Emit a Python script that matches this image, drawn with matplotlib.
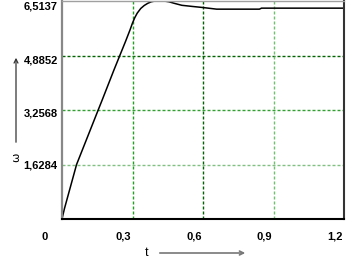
import matplotlib
matplotlib.use("Agg")
import matplotlib.pyplot as plt
import matplotlib.transforms as mtransforms
from matplotlib import font_manager

# Data
t_vals = [0.0, 0.01, 0.062, 0.154, 0.171, 0.221, 0.246, 0.270, 0.290, 0.300, 0.310,
          0.320, 0.335, 0.350, 0.365, 0.380, 0.395, 0.415, 0.435, 0.455, 0.480,
          0.510, 0.556, 0.598, 0.658, 0.840, 0.849, 1.2]
w_vals = [0.0, 0.30, 1.628, 3.257, 3.556, 4.452, 4.885, 5.300, 5.660, 5.856, 6.020,
          6.150, 6.290, 6.380, 6.445, 6.490, 6.512, 6.520, 6.512, 6.490, 6.440,
          6.385, 6.350, 6.320, 6.270, 6.270, 6.300, 6.300]
x_ticks = [0, 0.3, 0.6, 0.9, 1.2]
x_labels = ["0", "0,3", "0,6", "0,9", "1,2"]
y_ticks = [1.6284, 3.2568, 4.8852, 6.5137]
y_labels = ["1,6284", "3,2568", "4,8852", "6,5137"]

names = {f.name for f in font_manager.fontManager.ttflist}
if "Liberation Sans Narrow" in names:
    fam, fs = "Liberation Sans Narrow", 9
else:
    fam, fs = "Liberation Sans", 8

W, H = 362, 268
fig = plt.figure(figsize=(W / 100, H / 100), dpi=100)
ax = fig.add_axes([62 / W, (H - 219) / H, 282 / W, 218 / H])

ax.plot(t_vals, w_vals, color="black", lw=1.1)
ax.set_xlim(0, 1.2)
ax.set_ylim(0, 6.5137)

ax.set_xticks(x_ticks)
ax.set_xticklabels(x_labels, fontfamily=fam, fontweight="bold", fontsize=fs)
ax.set_yticks(y_ticks)
ax.set_yticklabels(y_labels, fontfamily=fam, fontweight="bold", fontsize=fs)
ax.tick_params(length=0, pad=3)
ax.tick_params(axis="x", pad=9)

for i, lab in enumerate(ax.get_xticklabels()):
    lab.set_ha("right")
    dx = -10 / 72 if i == 0 else -1 / 72
    lab.set_transform(lab.get_transform() + mtransforms.ScaledTranslation(dx, 0, fig.dpi_scale_trans))
for i, lab in enumerate(ax.get_yticklabels()):
    dy = [0, -2, -3, -3][i] / 72
    lab.set_transform(lab.get_transform() + mtransforms.ScaledTranslation(0, dy, fig.dpi_scale_trans))

# grid lines with varying greens
dash = (0, (2.16, 1.44))
hcols = ["#80c080", "#30a030", "#006400", None]
for y, c in zip(y_ticks, hcols):
    if c:
        ax.axhline(y, color=c, lw=1.0, ls=dash, zorder=0)
vcols = ["#20a020", "#006400", "#70c070"]
for x, c in zip(x_ticks[1:4], vcols):
    ax.axvline(x, color=c, lw=1.0, ls=dash, zorder=0)

ax.spines["left"].set_color("#888888")
ax.spines["left"].set_linewidth(1.6)
ax.spines["top"].set_color("#a0a0a0")
ax.spines["top"].set_linewidth(1.0)
ax.spines["right"].set_color("#333333")
ax.spines["right"].set_linewidth(1.5)
ax.spines["bottom"].set_color("black")
ax.spines["bottom"].set_linewidth(1.5)

# axis labels with arrows
fig.text(147 / W, 1 - 253 / H, "t", ha="center", va="center", fontsize=9, fontfamily=fam)
fig.text(16 / W, 1 - 157 / H, "ω", ha="center", va="center", fontsize=8, rotation=90)
fig.add_artist(matplotlib.patches.FancyArrowPatch(
    (157 / W, 1 - 253 / H), (248 / W, 1 - 253 / H), transform=fig.transFigure,
    arrowstyle="->", mutation_scale=7, color="#777777", lw=1.2))
fig.add_artist(matplotlib.patches.FancyArrowPatch(
    (16 / W, 1 - 145 / H), (16 / W, 1 - 55 / H), transform=fig.transFigure,
    arrowstyle="->", mutation_scale=7, color="#333333", lw=0.9))

fig.savefig("out.png", dpi=100)
